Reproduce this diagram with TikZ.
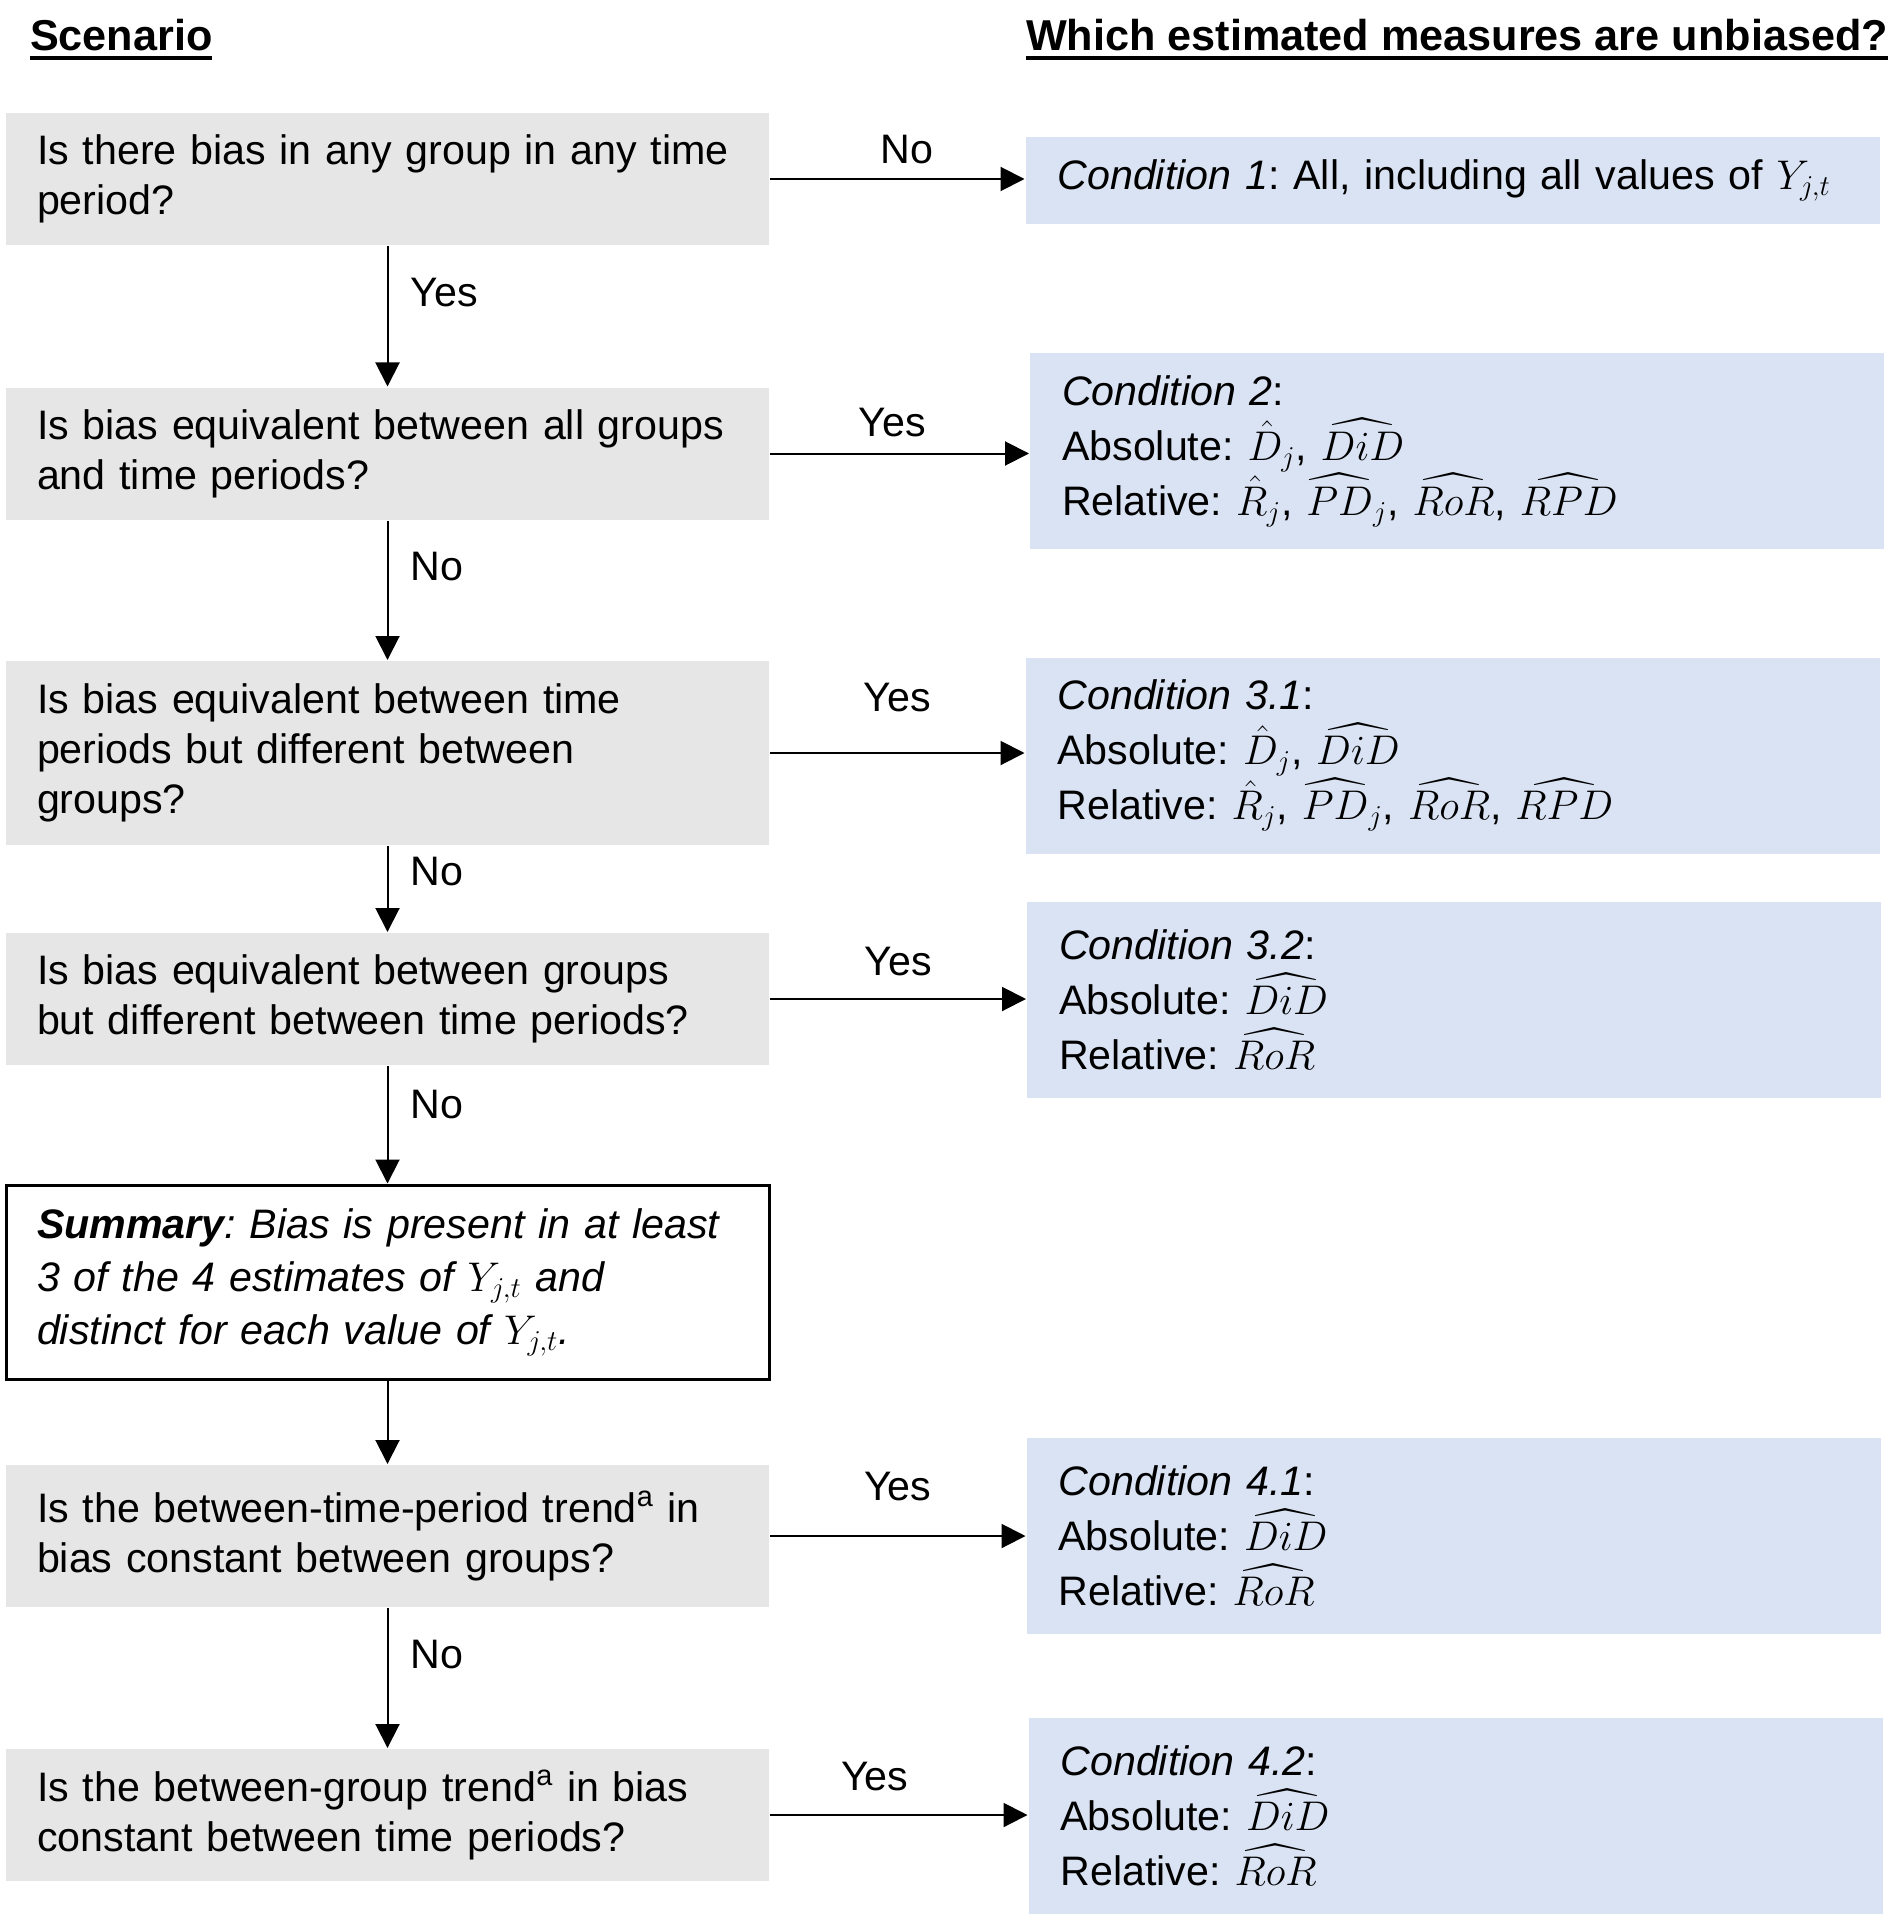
\documentclass[tikz,border=0pt]{standalone}
\usepackage{fontspec}
\setmainfont{Liberation Sans}
\usepackage{amsmath}
\usetikzlibrary{arrows.meta}
\definecolor{qgray}{HTML}{E7E6E6}
\definecolor{cblue}{HTML}{DAE3F3}
\newcommand{\hdrul}[1]{\leavevmode\vtop{\hbox{#1}\kern2.5pt\hrule height 1.6pt}}
\frenchspacing

\begin{document}
\begin{tikzpicture}[x=0.5pt, y=-0.5pt, line width=1pt,
  >={Triangle[length=12pt,width=12pt]},
  qbox/.style={fill=qgray, text width=350.5pt, inner xsep=15.5pt, inner ysep=0pt,
    minimum height=66pt, align=left, font=\fontsize{20.6}{25}\selectfont},
  sbox/.style={qbox, fill=white, draw=black, line width=1.5pt},
  cbox/.style={fill=cblue, text width=395pt, inner xsep=16pt, inner ysep=0pt,
    minimum height=98pt, align=left, font=\fontsize{20.6}{27.5}\selectfont},
  lbl/.style={inner sep=0pt, font=\fontsize{20.6}{25}\selectfont}]
\useasboundingbox (0,0) rectangle (1892,1920);

%% headings
\draw (29,51) node[anchor=base west, lbl, font=\fontsize{21.6}{25}\selectfont] (hdl)
  {\bfseries\hdrul{Scenario}};
\draw (1025,51) node[anchor=base west, lbl, font=\fontsize{21.6}{25}\selectfont] (hdr)
  {\bfseries\hdrul{Which estimated measures are unbiased?}};

%%%%%%%%%%%%%%%%%%%%%% Scenario column

\draw (387.5,179) node[qbox] (q1)
  {Is there bias in any group in any time\\ period?};
%% Q2
\draw (q1) ++ (0,274.5) node[qbox] (q2)
  {Is bias equivalent between all groups\\ and time periods?};
\path[draw, ->] (q1) -- node[lbl, right=11pt, pos=0.33] {Yes} (q2);
%% Q3
\draw (q2) ++ (0,299.5) node[qbox, minimum height=92pt] (q3)
  {Is bias equivalent between time\\ periods but different between\\ groups?};
\path[draw, ->] (q2) -- node[lbl, right=11pt, pos=0.33] {No} (q3);
%% Q4
\draw (q3) ++ (0,246) node[qbox] (q4)
  {Is bias equivalent between groups\\ but different between time periods?};
\path[draw, ->] (q3) -- node[lbl, right=11pt, pos=0.3] {No} (q4);
%% Summary
\draw (q4) ++ (0,283) node[sbox, minimum height=97pt,
  font=\fontsize{20.6}{26.5}\selectfont\itshape] (sum)
  {\textbf{Summary}: Bias is present in at least\\
   3 of the 4 estimates of $Y_{j,t}$ and\\
   distinct for each value of $Y_{j,t}$.};
\path[draw, ->] (q4) -- node[lbl, right=11pt, pos=0.33] {No} (sum);
%% Q5
\draw (sum) ++ (0,254) node[qbox, minimum height=71pt] (q5)
  {Is the between-time-period trend\textsuperscript{a} in\\ bias constant between groups?};
\path[draw, ->] (sum) -- (q5);
%% Q6
\draw (q5) ++ (0,279) node[qbox] (q6)
  {Is the between-group trend\textsuperscript{a} in bias\\ constant between time periods?};
\path[draw, ->] (q5) -- node[lbl, right=11pt, pos=0.33] {No} (q6);

%%%%%%%%%%%%%%%%%%%%%% Condition column

\draw (q1) ++ (1065,1.5) node[cbox, minimum height=43.5pt] (c1)
  {\textit{Condition 1}: All, including all values of $Y_{j,t}$};
\path[draw, ->] (q1.east) -- node[lbl, above=7pt, xshift=5pt] {No} (q1.east -| c1.west);
%% C2
\draw (q2) ++ (1069.5,-2.5) node[cbox] (c2)
  {\textit{Condition 2}:\\
   Absolute: $\hat{D}_j$, $\widehat{DiD}$\\
   Relative: $\hat{R}_j$, $\widehat{PD}_j$, $\widehat{RoR}$, $\widehat{RPD}$};
\path[draw, ->] (q2.east) -- node[lbl, above=8pt, xshift=-3.5pt] {Yes} (q2.east -| c2.west);
%% C3.1
\draw (q3) ++ (1065,2.5) node[cbox] (c3)
  {\textit{Condition 3.1}:\\
   Absolute: $\hat{D}_j$, $\widehat{DiD}$\\
   Relative: $\hat{R}_j$, $\widehat{PD}_j$, $\widehat{RoR}$, $\widehat{RPD}$};
\path[draw, ->] (q3.east) -- node[lbl, above=20pt] {Yes} (q3.east -| c3.west);
%% C3.2
\draw (q4) ++ (1066.5,1) node[cbox] (c4)
  {\textit{Condition 3.2}:\\
   Absolute: $\widehat{DiD}$\\
   Relative: $\widehat{RoR}$};
\path[draw, ->] (q4.east) -- node[lbl, above=11pt] {Yes} (q4.east -| c4.west);
%% C4.1
\draw (q5) ++ (1066,0) node[cbox] (c5)
  {\textit{Condition 4.1}:\\
   Absolute: $\widehat{DiD}$\\
   Relative: $\widehat{RoR}$};
\path[draw, ->] (q5.east) -- node[lbl, above=17pt] {Yes} (q5.east -| c5.west);
%% C4.2
\draw (q6) ++ (1068,1) node[cbox] (c6)
  {\textit{Condition 4.2}:\\
   Absolute: $\widehat{DiD}$\\
   Relative: $\widehat{RoR}$};
\path[draw, ->] (q6.east) -- node[lbl, above=11.5pt, xshift=-12pt] {Yes} (q6.east -| c6.west);
\end{tikzpicture}
\end{document}
